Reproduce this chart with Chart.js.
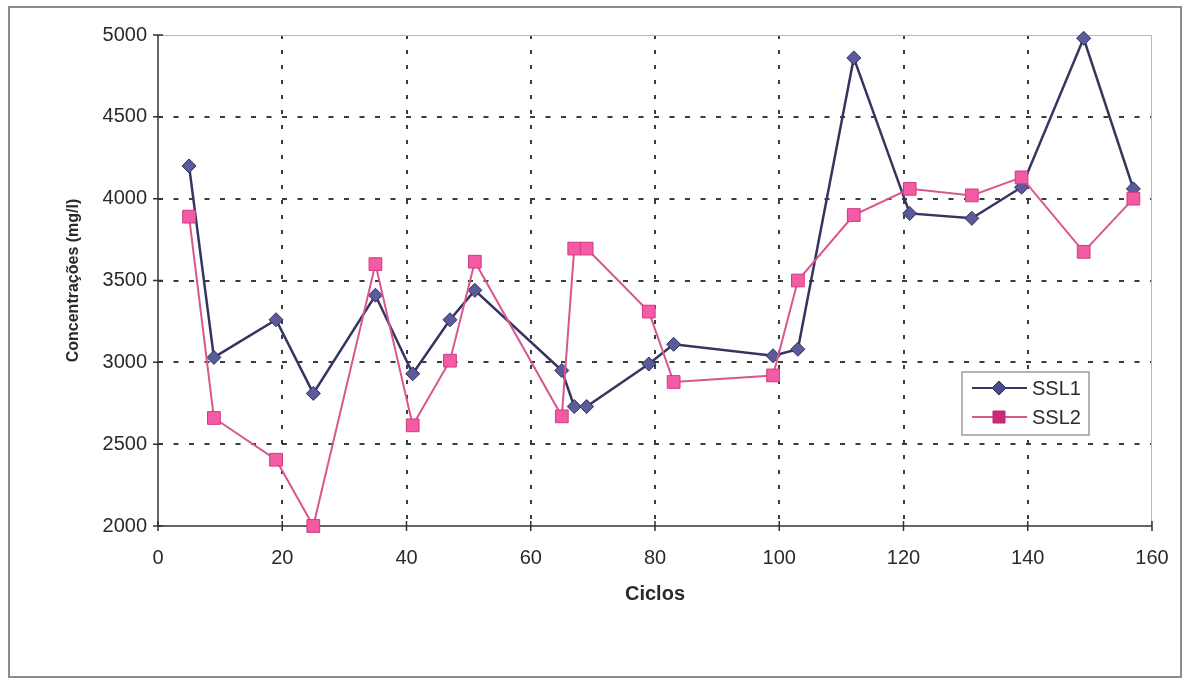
<!DOCTYPE html>
<html>
<head>
<meta charset="utf-8">
<title>SSL1 / SSL2</title>
<script src="https://cdn.jsdelivr.net/npm/chart.js@4/dist/chart.umd.min.js"></script>
<style>
    html, body { margin: 0; padding: 0; background: #fff; }
    #wrap { position: relative; width: 1186px; height: 680px; }
</style>
</head>
<body>
<div id="wrap"><canvas id="chart" width="1186" height="680"></canvas></div>
<script>
// ciclos (eixo x) e concentrações de sólidos (mg/l)
var ciclos = [5, 9, 19, 25, 35, 41, 47, 51, 65, 67, 69, 79, 83, 99, 103, 112, 121, 131, 139, 149, 157];
var ssl1 = [4200, 3030, 3260, 2810, 3410, 2930, 3260, 3440, 2950, 2730, 2730, 2990, 3110, 3040, 3080, 4860, 3910, 3880, 4070, 4980, 4060];
var ssl2 = [3890, 2660, 2405, 2000, 3600, 2615, 3010, 3615, 2670, 3695, 3695, 3310, 2880, 2920, 3500, 3900, 4060, 4020, 4130, 3675, 4000];

var xTicks = { min: 0, max: 160, step: 20 };
var yTicks = { min: 2000, max: 5000, step: 500 };

var FONT = '"Liberation Sans", Arial, sans-serif';

function toPoints(xs, ys) {
    var pts = [];
    for (var i = 0; i < xs.length; i++) {
        pts.push({ x: xs[i], y: ys[i] });
    }
    return pts;
}

function diamond(ctx, x, y, r) {
    ctx.beginPath();
    ctx.moveTo(x, y - r);
    ctx.lineTo(x + r, y);
    ctx.lineTo(x, y + r);
    ctx.lineTo(x - r, y);
    ctx.closePath();
}

// sem separador de milhar nos rótulos
function plainTick(value) {
    return String(value);
}

// moldura externa, eixos, borda da área de plotagem e legenda
var frames = {
    id: 'frames',
    beforeDraw: function(chart) {
        var ctx = chart.ctx;
        ctx.save();
        ctx.fillStyle = '#fff';
        ctx.fillRect(0, 0, chart.width, chart.height);
        ctx.strokeStyle = '#8c8c8c';
        ctx.lineWidth = 2;
        ctx.strokeRect(9, 7, 1172, 670);
        ctx.restore();
    },
    beforeDatasetsDraw: function(chart) {
        var a = chart.chartArea;
        var ctx = chart.ctx;
        ctx.save();
        ctx.setLineDash([]);
        ctx.strokeStyle = '#b8b8b8';
        ctx.lineWidth = 1;
        ctx.beginPath();
        ctx.moveTo(a.left, a.top + 0.5);
        ctx.lineTo(a.right - 0.5, a.top + 0.5);
        ctx.lineTo(a.right - 0.5, a.bottom);
        ctx.stroke();

        ctx.strokeStyle = '#333';
        ctx.lineWidth = 1.5;
        ctx.beginPath();
        ctx.moveTo(a.left, a.top);
        ctx.lineTo(a.left, a.bottom);
        ctx.lineTo(a.right, a.bottom);
        ctx.stroke();

        // marcas cruzando os eixos
        var xs = chart.scales.x, ys = chart.scales.y;
        ctx.lineWidth = 1.5;
        ctx.beginPath();
        xs.ticks.forEach(function(t) {
            var px = xs.getPixelForValue(t.value);
            ctx.moveTo(px, a.bottom - 5);
            ctx.lineTo(px, a.bottom + 5);
        });
        ys.ticks.forEach(function(t) {
            var py = ys.getPixelForValue(t.value);
            ctx.moveTo(a.left - 5, py);
            ctx.lineTo(a.left + 5, py);
        });
        ctx.stroke();
        ctx.restore();
    },
    afterDraw: function(chart) {
        var ctx = chart.ctx;
        var bx = 962, by = 372, bw = 127, bh = 63;
        ctx.save();
        ctx.fillStyle = '#fff';
        ctx.fillRect(bx, by, bw, bh);
        ctx.strokeStyle = '#9a9a9a';
        ctx.lineWidth = 1.5;
        ctx.strokeRect(bx, by, bw, bh);

        var rows = [
            { label: 'SSL1', y: 388, line: '#35355f', fill: '#4a4a8c', border: '#2f2f5a', shape: 'diamond' },
            { label: 'SSL2', y: 417, line: '#d9568f', fill: '#cc2a78', border: '#c02070', shape: 'square' }
        ];
        rows.forEach(function(r) {
            ctx.strokeStyle = r.line;
            ctx.lineWidth = 2;
            ctx.beginPath();
            ctx.moveTo(972, r.y);
            ctx.lineTo(1027, r.y);
            ctx.stroke();
            ctx.fillStyle = r.fill;
            ctx.strokeStyle = r.border;
            ctx.lineWidth = 1;
            if (r.shape === 'diamond') {
                diamond(ctx, 999, r.y, 7);
            } else {
                ctx.beginPath();
                ctx.rect(993, r.y - 6, 12, 12);
            }
            ctx.fill();
            ctx.stroke();
            ctx.fillStyle = '#2a2a2a';
            ctx.font = '20px ' + FONT;
            ctx.textBaseline = 'middle';
            ctx.textAlign = 'left';
            ctx.fillText(r.label, 1032, r.y + 1);
        });
        ctx.restore();
    }
};

var gridColor = '#3c3c3c';

var ctx = document.getElementById('chart').getContext('2d');
var chart = new Chart(ctx, {
    type: 'line',
    data: {
        datasets: [{
            label: 'SSL1',
            data: toPoints(ciclos, ssl1),
            borderColor: '#35355f',
            borderWidth: 2.5,
            pointStyle: 'rectRot',
            pointRadius: 7,
            pointBackgroundColor: '#5b5b9b',
            pointBorderColor: '#2f2f5a',
            pointBorderWidth: 1,
            tension: 0,
            clip: false,
            order: 2
        }, {
            label: 'SSL2',
            data: toPoints(ciclos, ssl2),
            borderColor: '#d9568f',
            borderWidth: 2,
            pointStyle: 'rect',
            pointRadius: 9,
            pointBackgroundColor: '#f45ba5',
            pointBorderColor: '#d03a80',
            pointBorderWidth: 1,
            tension: 0,
            clip: false,
            order: 1
        }]
    },
    options: {
        responsive: false,
        animation: false,
        events: [],
        layout: { padding: { top: 35, right: 34, bottom: 0, left: 0 } },
        plugins: {
            legend: { display: false },
            tooltip: { enabled: false }
        },
        scales: {
            x: {
                type: 'linear',
                min: xTicks.min,
                max: xTicks.max,
                afterFit: function(scale) { scale.height = 154; },
                ticks: {
                    stepSize: xTicks.step,
                    padding: 14,
                    color: '#2a2a2a',
                    font: { family: FONT, size: 20 },
                    callback: plainTick
                },
                grid: {
                    color: function(c) {
                        var v = c.tick && c.tick.value;
                        return v === xTicks.max || v === xTicks.min ? 'rgba(0,0,0,0)' : gridColor;
                    },
                    lineWidth: 2,
                    drawTicks: true,
                    tickLength: 6,
                    tickColor: 'rgba(0,0,0,0)'
                },
                border: { display: false, dash: [4, 11] },
                title: {
                    display: true,
                    text: 'Ciclos',
                    color: '#2a2a2a',
                    font: { family: FONT, size: 20, weight: 'bold' },
                    padding: { top: 0, bottom: 74 }
                }
            },
            y: {
                type: 'linear',
                min: yTicks.min,
                max: yTicks.max,
                afterFit: function(scale) { scale.width = 158; },
                ticks: {
                    stepSize: yTicks.step,
                    padding: 5,
                    color: '#2a2a2a',
                    font: { family: FONT, size: 20 },
                    callback: plainTick
                },
                grid: {
                    color: function(c) {
                        var v = c.tick && c.tick.value;
                        return v === yTicks.max || v === yTicks.min ? 'rgba(0,0,0,0)' : gridColor;
                    },
                    lineWidth: 2,
                    drawTicks: true,
                    tickLength: 6,
                    tickColor: 'rgba(0,0,0,0)'
                },
                border: { display: false, dash: [5, 10.5] },
                title: {
                    display: true,
                    text: 'Concentrações (mg/l)',
                    color: '#2a2a2a',
                    font: { family: FONT, size: 16, weight: 'bold' },
                    padding: { top: 64, bottom: 0 }
                }
            }
        }
    },
    plugins: [frames]
});
</script>
</body>
</html>
